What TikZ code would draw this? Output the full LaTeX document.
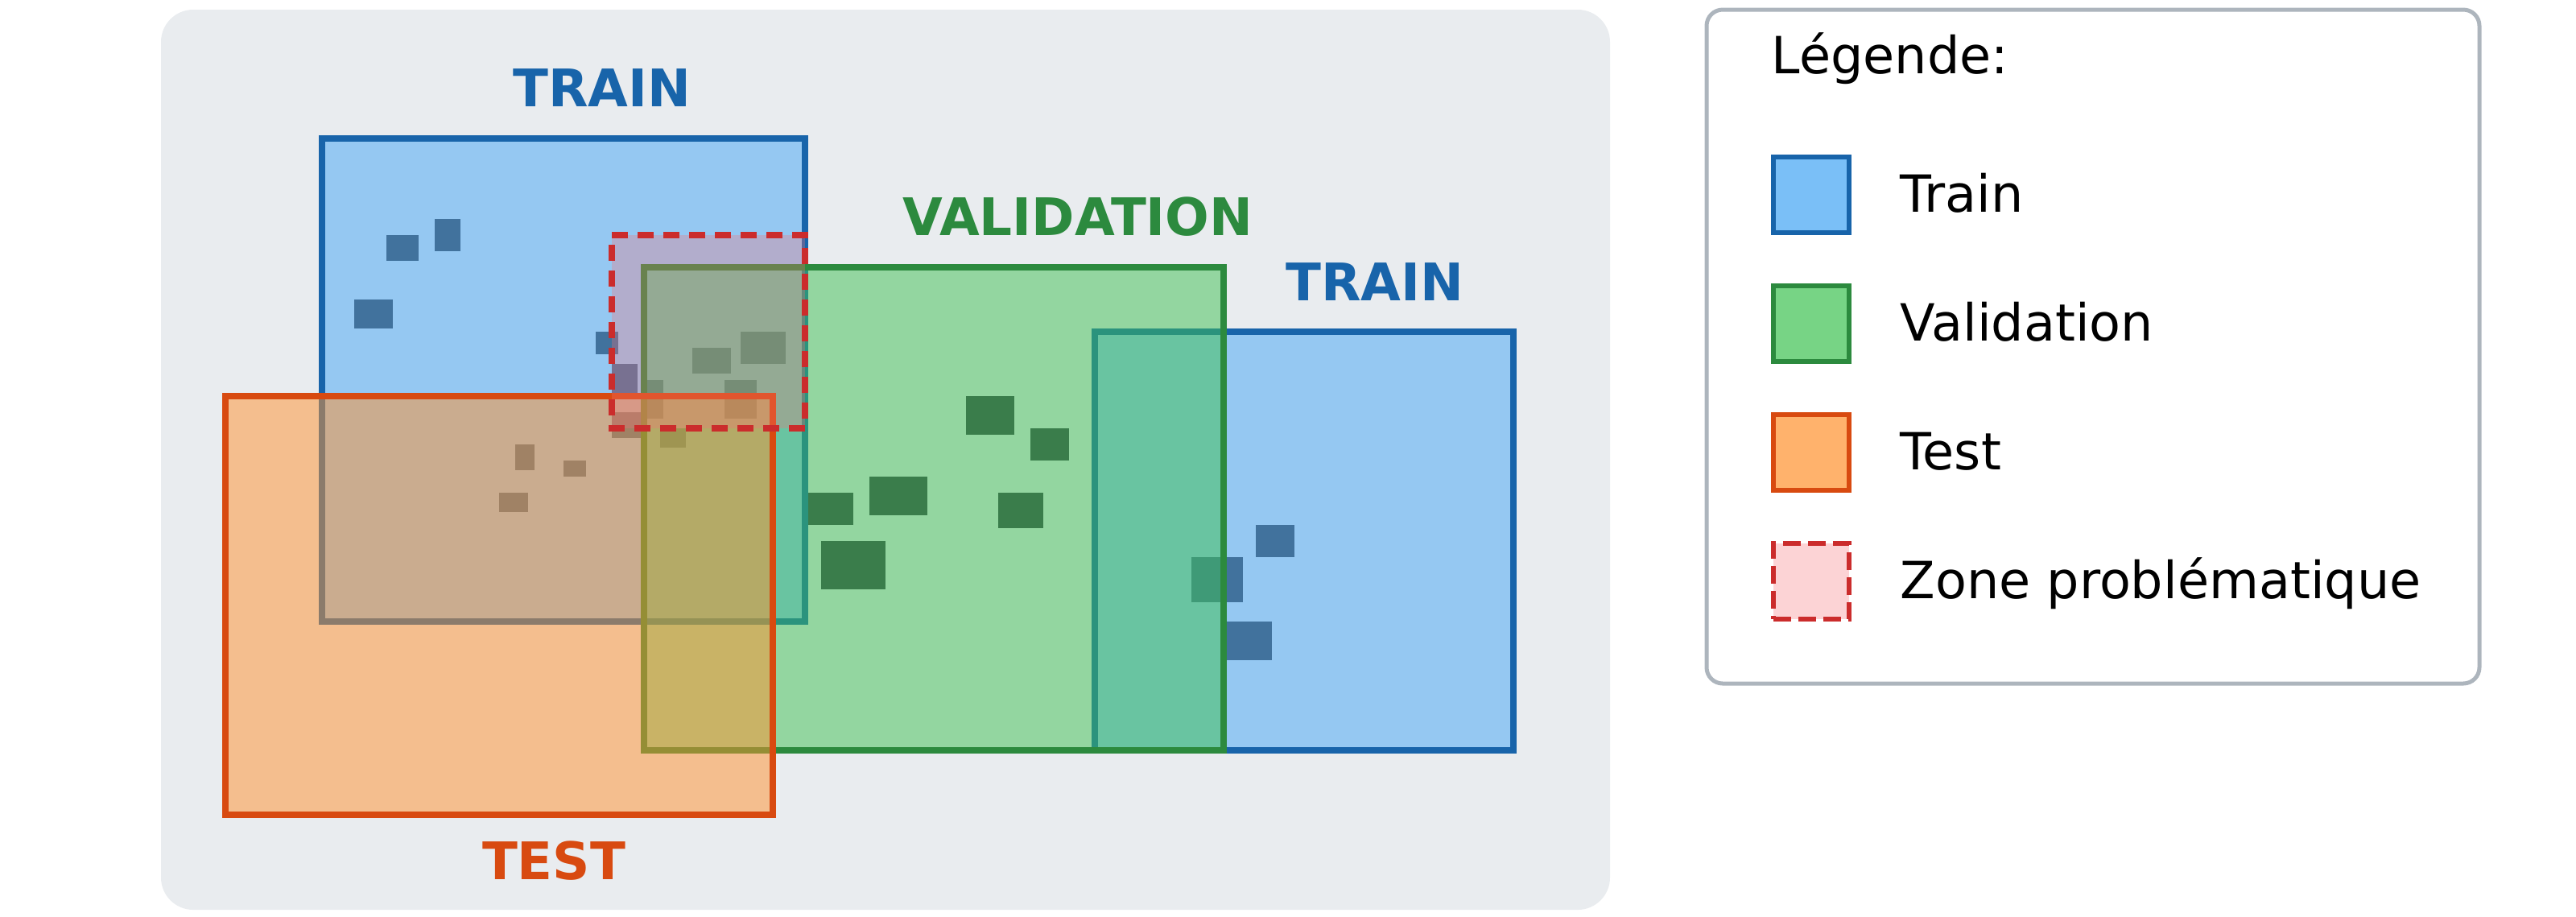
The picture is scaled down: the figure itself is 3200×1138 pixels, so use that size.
\documentclass[tikz,border=0pt]{standalone}
\usepackage{fontspec}
\setmainfont{DejaVu Sans}
\usepackage{xcolor}
\definecolor{spBg}{HTML}{E9ECEF}
\definecolor{spTrainFill}{RGB}{66,165,245}
\definecolor{spTrainLine}{HTML}{1864AA}
\definecolor{spTrainDot}{HTML}{41729D}
\definecolor{spValFill}{RGB}{62,194,82}
\definecolor{spValLine}{HTML}{2C8A3E}
\definecolor{spValDot}{HTML}{3A7D4B}
\definecolor{spTestFill}{RGB}{255,146,46}
\definecolor{spTestLine}{HTML}{D84A10}
\definecolor{spZoneFill}{RGB}{248,112,118}
\definecolor{spZoneLine}{HTML}{CB2C2C}
\definecolor{spLegLine}{HTML}{ADB5BD}
\usepackage{tikz}
\usetikzlibrary{positioning}

\begin{document}
\begin{tikzpicture}[
      x=0.1mm, y=-0.1mm,
      every node/.style={font=\fontsize{18.1}{21}\selectfont},
      region/.style={fill opacity=0.5, line width=0.8mm},
      setlabel/.style={anchor=base, inner sep=0pt,
                       font=\fontsize{18.3}{21}\selectfont\bfseries},
      swatch/.style={rectangle, minimum size=9.4mm, inner sep=0pt,
                     outer sep=0pt, line width=0.6mm, fill opacity=0.7},
      leglabel/.style={inner sep=0pt, text height=4.2mm, text depth=0pt},
    ]
    \useasboundingbox (0,0) rectangle (3200,1138);

    % Background panel
    \fill[spBg, rounded corners=4mm] (200,12) rectangle (2000,1130);

    % Train (left) and its samples
    \filldraw[region, fill=spTrainFill, draw=spTrainLine] (400,172) rectangle (1000,772);
    \foreach \xa/\ya/\xb/\yb in {480/292/520/324, 540/272/572/312, 440/372/488/408,
        740/412/768/440, 760/452/792/488, 760/512/796/544,
        640/552/664/584, 700/572/728/592, 620/612/656/636,
        860/432/908/464, 920/412/976/452, 804/472/824/520,
        900/472/940/520, 820/532/852/556}
      \fill[spTrainDot] (\xa,\ya) rectangle (\xb,\yb);

    % Train (right) and its samples
    \filldraw[region, fill=spTrainFill, draw=spTrainLine] (1360,412) rectangle (1880,932);
    \foreach \xa/\ya/\xb/\yb in {1560/652/1608/692, 1480/692/1544/748, 1522/772/1580/820}
      \fill[spTrainDot] (\xa,\ya) rectangle (\xb,\yb);

    % Validation and its samples
    \filldraw[region, fill=spValFill, draw=spValLine] (800,332) rectangle (1520,932);
    \foreach \xa/\ya/\xb/\yb in {1200/492/1260/540, 1280/532/1328/572, 1004/612/1060/652,
        1080/592/1152/640, 1240/612/1296/656, 1020/672/1100/732}
      \fill[spValDot] (\xa,\ya) rectangle (\xb,\yb);

    % Test
    \filldraw[region, fill=spTestFill, draw=spTestLine] (280,492) rectangle (960,1012);

    % Problem zone
    \fill[spZoneFill, fill opacity=0.3] (760,292) rectangle (1000,532);
    \draw[spZoneLine, line width=0.8mm, dash pattern=on 2mm off 1.2mm, dash phase=2mm]
      (760,292) -- (760,532) -- (1000,532) -- (1000,292) -- cycle;

    % Set labels
    \node[setlabel, text=spTrainLine] (lblTrainA) at (748,132) {TRAIN};
    \node[setlabel, text=spValLine] (lblVal) at (1339,292) {VALIDATION};
    \node[setlabel, text=spTrainLine] (lblTrainB) at (1708,373) {TRAIN};
    \node[setlabel, text=spTestLine] (lblTest) at (688,1092) {TEST};

    % Legend
    \filldraw[fill=white, draw=spLegLine, line width=0.5mm, rounded corners=2mm]
      (2120,12) rectangle (3080,849);
    \node[anchor=base west, inner sep=0pt] (legTitle) at (2200,91) {Légende:};
    \node[swatch, fill=spTrainFill, draw=spTrainLine] (swTrain) at (2250,242) {};
    \node[swatch, fill=spValFill, draw=spValLine, below=6.6mm of swTrain] (swVal) {};
    \node[swatch, fill=spTestFill, draw=spTestLine, below=6.6mm of swVal] (swTest) {};
    \node[swatch, fill=spZoneFill, fill opacity=0.3, draw=spZoneLine,
          dash pattern=on 2.2mm off 0.9mm, below=6.6mm of swTest] (swZone) {};
    \node[leglabel, right=6.3mm of swTrain] (txTrain) {Train};
    \node[leglabel, right=6.3mm of swVal] (txVal) {Validation};
    \node[leglabel, right=6.3mm of swTest] (txTest) {Test};
    \node[leglabel, right=6.3mm of swZone] (txZone) {Zone problématique};

  \end{tikzpicture}
\end{document}
